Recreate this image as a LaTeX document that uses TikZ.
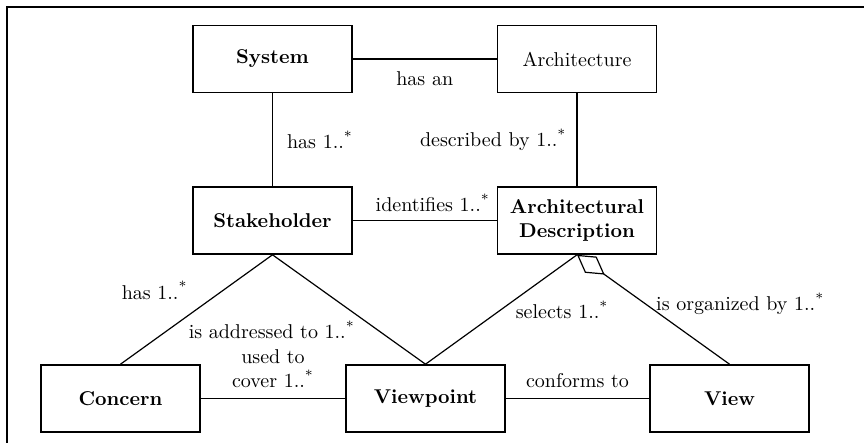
\documentclass[tikz,border=0pt]{standalone}
\usetikzlibrary{arrows.meta}
\begin{document}
\begin{tikzpicture}[x=0.5pt,y=-0.5pt,
  box/.style={draw,line width=0.8pt,minimum width=79.5pt,minimum height=33.5pt,
    inner sep=2pt,align=center,font=\bfseries},
  link/.style={draw,line width=0.6pt},
  lbl/.style={font=\normalsize,inner sep=2pt}]
\useasboundingbox (0,0) rectangle (864,443);
% рамка
\draw[line width=1.1pt] (7,443) -- (7,7) -- (864,7);
% блоки
\node[box] (sys) at (272.5,59) {System};
\node[box,font=\mdseries] (arch) at (577,59) {Architecture};
\node[box] (stake) at (272.5,220.5) {Stakeholder};
\node[box] (ad) at (577,220.5) {Architectural\\Description};
\node[box] (conc) at (120.5,398.5) {Concern};
\node[box] (vp) at (425.5,398.5) {Viewpoint};
\node[box] (view) at (729.5,398.5) {View};
% связи
\draw[link] (sys) -- node[lbl,below=4pt] {has an} (arch);
\draw[link] (sys) -- node[lbl,right=5pt] {has 1..\textsuperscript{*}} (stake);
\draw[link] (arch) -- node[lbl,left=3pt] {described by 1..\textsuperscript{*}} (ad);
\draw[link] (stake) -- node[lbl,above=2pt,xshift=4pt] {identifies 1..\textsuperscript{*}} (ad);
\draw[link] (stake.south) -- node[lbl,pos=0.45,anchor=south east,xshift=-6pt] {has 1..\textsuperscript{*}} (conc.north);
\draw[link] (stake.south) -- node[lbl,pos=0.62,anchor=north east,xshift=-4pt,yshift=3pt] {is addressed to 1..\textsuperscript{*}} (vp.north);
\draw[link] (conc) -- node[lbl,above=3pt,align=center] {used to\\cover 1..\textsuperscript{*}} (vp);
\draw[link] (ad.south) -- node[lbl,midway,right=5pt] {selects 1..\textsuperscript{*}} (vp.north);
\draw[link,{Diamond[open,length=17pt,width=10pt]}-] (ad.south) -- node[lbl,pos=0.45,right=3pt] {is organized by 1..\textsuperscript{*}} (view.north);
\draw[link] (vp) -- node[lbl,above=3pt] {conforms to} (view);
\end{tikzpicture}
\end{document}
